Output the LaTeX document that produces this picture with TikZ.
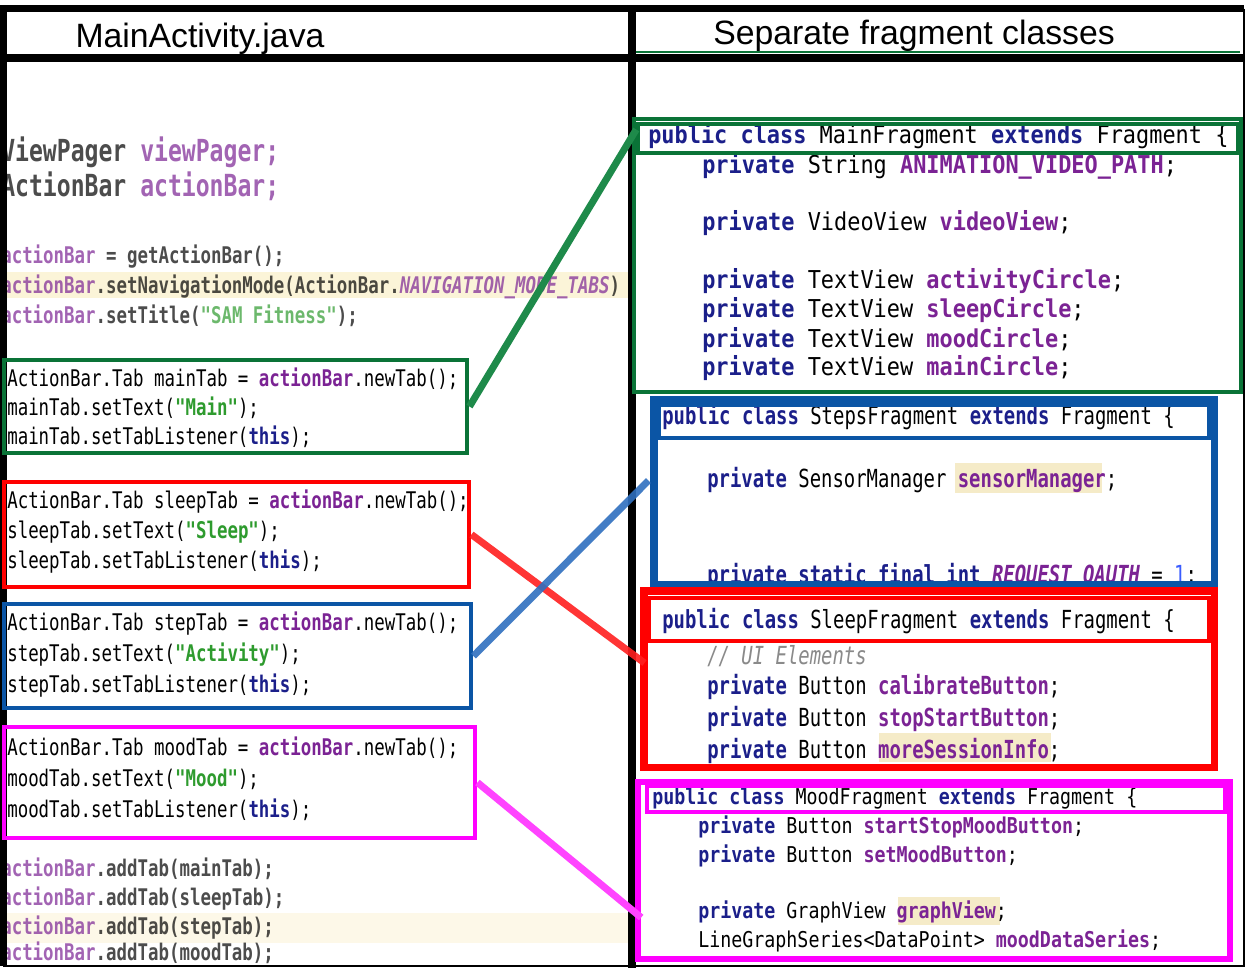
\documentclass[tikz,border=0pt]{standalone}
\usepackage{fontspec}
\usetikzlibrary{calc}
\newfontfamily\headfont{Liberation Sans}
\newfontfamily\codeN[FakeStretch=0.76]{DejaVu Sans Mono}
\newfontfamily\codeW[FakeStretch=0.89]{DejaVu Sans Mono}
\newfontfamily\codeMd[FakeStretch=0.84]{DejaVu Sans Mono}
\definecolor{boxgreen}{HTML}{0A7337}
\definecolor{boxred}{HTML}{FF0000}
\definecolor{boxblue}{HTML}{0B55A5}
\definecolor{boxmag}{HTML}{FF00FF}
\definecolor{lnkgreen}{HTML}{1E8A4A}
\definecolor{lnkred}{HTML}{FF2020}
\definecolor{lnkblue}{HTML}{2F6FBF}
\definecolor{lnkmag}{HTML}{FF44FF}
\definecolor{kwblue}{HTML}{1B1F8A}
\definecolor{fldpurple}{HTML}{7B2394}
\definecolor{strgreen}{HTML}{2E9B2E}
\definecolor{numblue}{HTML}{3A5CFF}
\definecolor{cmtgray}{HTML}{8A8A8A}
\definecolor{hilite}{HTML}{F5EBC8}
\definecolor{band}{HTML}{FBF4D8}
\newcommand\kw[1]{\textbf{\color{kwblue}#1}}
\newcommand\fld[1]{\textbf{\color{fldpurple}#1}}
\newcommand\jstr[1]{\textbf{\color{strgreen}#1}}
\begin{document}
\begin{tikzpicture}[x=0.025cm, y=-0.025cm,
    every node/.style={inner sep=0pt},
    head/.style={anchor=base, font=\headfont\fontsize{24}{28}\selectfont},
    codel/.style={anchor=base west, font=\codeN\fontsize{16.3}{18}\selectfont},
    blurbig/.style={anchor=base west, text opacity=0.7, font=\codeN\fontsize{21.6}{24}\selectfont\bfseries},
    blur/.style={anchor=base west, text opacity=0.7, font=\codeN\fontsize{16.3}{18}\selectfont\bfseries},
    codem/.style={anchor=base west, font=\codeW\fontsize{17.5}{20}\selectfont},
    codes/.style={anchor=base west, font=\codeN\fontsize{17.7}{20}\selectfont},
    coded/.style={anchor=base west, font=\codeMd\fontsize{15.5}{18}\selectfont},
    gbox/.style={draw=boxgreen, line width=3.5pt},
    rbox/.style={draw=boxred, line width=3.5pt},
    bbox/.style={draw=boxblue, line width=3.5pt},
    mbox/.style={draw=boxmag, line width=3.5pt},
    link/.style={line width=5pt}]
\useasboundingbox (0,0) rectangle (1247,968);
\fill[white] (0,0) rectangle (1247,968);

\fill[band] (0,272) rectangle (628,298);
\fill[band!60] (0,913) rectangle (628,943);
\fill[hilite] (955,463) rectangle (1102,493);
\fill[hilite] (879,733) rectangle (1051,762);
\fill[hilite] (898,897) rectangle (1000,925);

\node[head] (t0) at (200,47) {MainActivity.java};
\node[head] (t00) at (914,44) {Separate fragment classes};

\node[blurbig] (b1) at (1,161) {ViewPager {\color{fldpurple}viewPager;}};
\node[blurbig] (b2) at (1,196) {ActionBar {\color{fldpurple}actionBar;}};
\node[blur] (b3) at (1,263) {\fld{actionBar} = getActionBar();};
\node[blur] (b4) at (1,293) {\fld{actionBar}.setNavigationMode(ActionBar.{\itshape\color{fldpurple}NAVIGATION\_MODE\_TABS})};
\node[blur] (b5) at (1,323) {\fld{actionBar}.setTitle(\jstr{"SAM Fitness"});};

\node[codel] (a1) at (7,386) {ActionBar.Tab mainTab = \fld{actionBar}.newTab();};
\node[codel] (a2) at (7,415) {mainTab.setText(\jstr{"Main"});};
\node[codel] (a3) at (7,444) {mainTab.setTabListener(\kw{this});};
\node[codel] (a4) at (7,508) {ActionBar.Tab sleepTab = \fld{actionBar}.newTab();};
\node[codel] (a5) at (7,538) {sleepTab.setText(\jstr{"Sleep"});};
\node[codel] (a6) at (7,568) {sleepTab.setTabListener(\kw{this});};
\node[codel] (a7) at (7,630) {ActionBar.Tab stepTab = \fld{actionBar}.newTab();};
\node[codel] (a8) at (7,661) {stepTab.setText(\jstr{"Activity"});};
\node[codel] (a9) at (7,692) {stepTab.setTabListener(\kw{this});};
\node[codel] (a10) at (7,755) {ActionBar.Tab moodTab = \fld{actionBar}.newTab();};
\node[codel] (a11) at (7,786) {moodTab.setText(\jstr{"Mood"});};
\node[codel] (a12) at (7,817) {moodTab.setTabListener(\kw{this});};

\node[blur] (b6) at (1,876) {\fld{actionBar}.addTab(mainTab);};
\node[blur] (b7) at (1,905) {\fld{actionBar}.addTab(sleepTab);};
\node[blur] (b8) at (1,934) {\fld{actionBar}.addTab(stepTab);};
\node[blur] (b9) at (1,960) {\fld{actionBar}.addTab(moodTab);};

\node[codem] (c1) at (648,143) {\kw{public class} MainFragment \kw{extends} Fragment \{};
\node[codem] (c2) at (702,173) {\kw{private} String \fld{ANIMATION\_VIDEO\_PATH};};
\node[codem] (c3) at (702,230) {\kw{private} VideoView \fld{videoView};};
\node[codem] (c4) at (702,288) {\kw{private} TextView \fld{activityCircle};};
\node[codem] (c5) at (702,317) {\kw{private} TextView \fld{sleepCircle};};
\node[codem] (c6) at (702,347) {\kw{private} TextView \fld{moodCircle};};
\node[codem] (c7) at (702,375) {\kw{private} TextView \fld{mainCircle};};

\node[codes] (d1) at (662,424) {\kw{public class} StepsFragment \kw{extends} Fragment \{};
\node[codes] (d2) at (707,487) {\kw{private} SensorManager \fld{sensorManager};};
\begin{scope}
\clip (656,440) rectangle (1212,582);
\node[codes] (d3) at (707,583) {\kw{private static final int} \textbf{\itshape\color{fldpurple}REQUEST\_OAUTH} = {\color{numblue}1};};
\end{scope}

\node[codes] (e1) at (662,628) {\kw{public class} SleepFragment \kw{extends} Fragment \{};
\begin{scope}
\clip (650,643) rectangle (1212,765);
\node[codes] (e2) at (707,664) {\itshape\color{cmtgray}// UI Elements};
\end{scope}
\node[codes] (e3) at (707,694) {\kw{private} Button \fld{calibrateButton};};
\node[codes] (e4) at (707,726) {\kw{private} Button \fld{stopStartButton};};
\node[codes] (e5) at (707,758) {\kw{private} Button \fld{moreSessionInfo};};

\node[coded] (f1) at (652,804) {\kw{public class} MoodFragment \kw{extends} Fragment \{};
\node[coded] (f2) at (698,833) {\kw{private} Button \fld{startStopMoodButton};};
\node[coded] (f3) at (698,862) {\kw{private} Button \fld{setMoodButton};};
\node[coded] (f4) at (698,918) {\kw{private} GraphView \fld{graphView};};
\node[coded] (f5) at (698,947) {LineGraphSeries<DataPoint> \fld{moodDataSeries};};

\draw[line width=5pt] (3,966) -- (3,8.5) -- (1244,8.5);
\draw[line width=6pt] (3,58) -- (1244,58);
\draw[line width=6pt] (632,8.5) -- (632,968);
\draw[line width=1.5pt] (1244,8.5) -- (1244,966) -- (3,966);
\draw[boxgreen, line width=1.5pt] (636,52) -- (1240,52);

\node[gbox, minimum width=463*0.025cm, minimum height=93*0.025cm] (l1) at (235.5,406.5) {};
\node[rbox, minimum width=465*0.025cm, minimum height=105*0.025cm] (l2) at (236.5,534.5) {};
\node[bbox, minimum width=467*0.025cm, minimum height=104*0.025cm] (l3) at (237.5,656) {};
\node[mbox, minimum width=471*0.025cm, minimum height=111*0.025cm] (l4) at (239.5,782.5) {};

\node[gbox, minimum width=607*0.025cm, minimum height=273*0.025cm] (r1) at (937.5,255.5) {};
\node[gbox, line width=2.5pt, minimum width=600*0.025cm, minimum height=29*0.025cm] (h1) at (938,138.5) {};
\node[bbox, line width=5pt, minimum width=560*0.025cm, minimum height=185*0.025cm] (r2) at (934,492.5) {};
\node[bbox, line width=3pt, minimum width=550*0.025cm, minimum height=33*0.025cm] (h2) at (934,421.5) {};
\node[rbox, line width=5pt, minimum width=570*0.025cm, minimum height=176*0.025cm] (r3) at (929,679) {};
\node[rbox, line width=3pt, minimum width=560*0.025cm, minimum height=43*0.025cm] (h3) at (929,619.5) {};
\node[mbox, line width=4pt, minimum width=592*0.025cm, minimum height=177*0.025cm] (r4) at (934,870.5) {};
\node[mbox, line width=3pt, minimum width=578*0.025cm, minimum height=26*0.025cm] (h4) at (936,799) {};

\draw[link, lnkgreen] (l1.east) -- ($(h1.west)+(0,-9)$);
\draw[link, lnkred, opacity=0.9] (l2.east) -- ($(r3.west)+(4,-16)$);
\draw[link, lnkblue, opacity=0.9] (l3.east) -- ($(r2.west)+(-2,-12)$);
\draw[link, lnkmag] (l4.east) -- ($(r4.west)+(6,47)$);

\end{tikzpicture}
\end{document}
